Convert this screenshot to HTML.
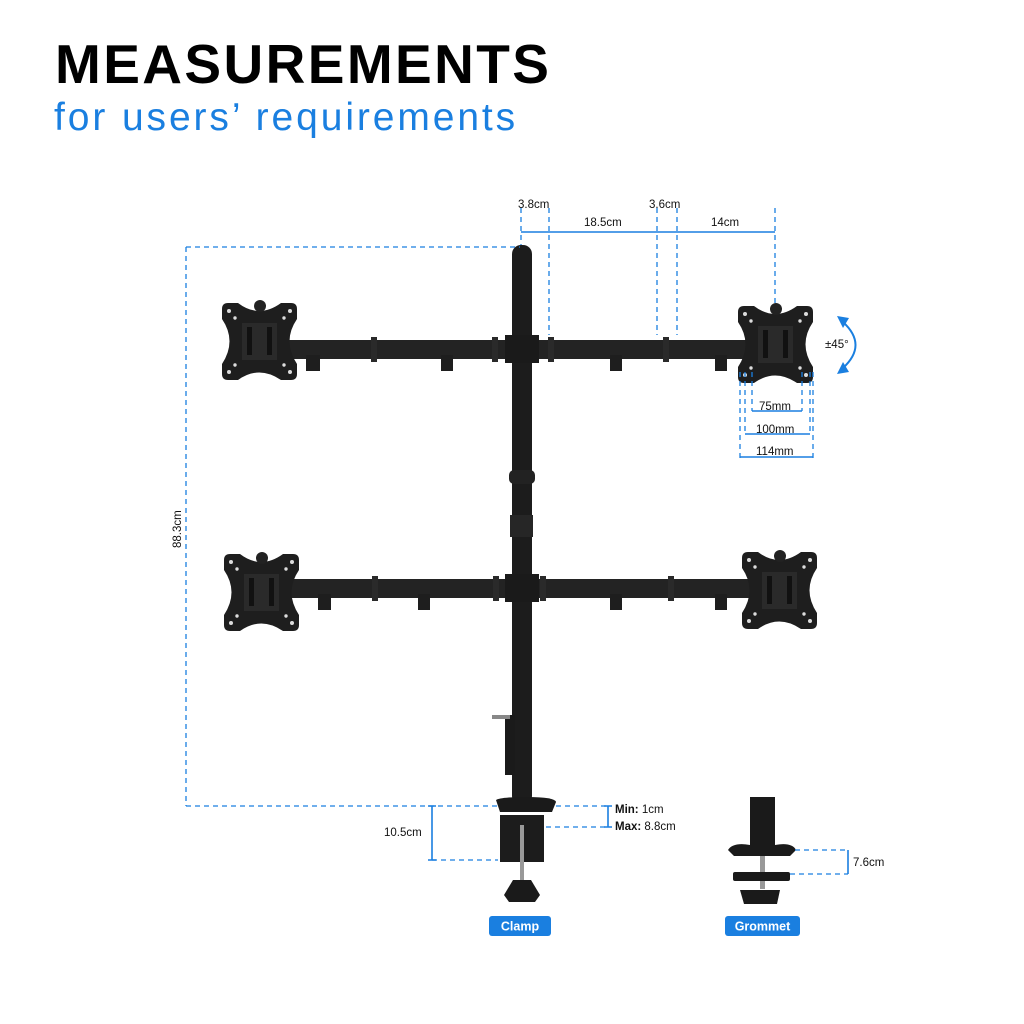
<!DOCTYPE html>
<html><head><meta charset="utf-8"><style>
html,body{margin:0;padding:0;background:#fff}
svg{display:block}
text{font-family:"Liberation Sans",sans-serif}
</style></head><body>
<svg width="1024" height="1024" viewBox="0 0 1024 1024" xmlns="http://www.w3.org/2000/svg">
<defs>
<g id="plate">
<path d="M0,6 Q0,0 6,0 L16,0 Q37,16 59,0 L69,0 Q75,0 75,6 L75,16 Q60,38 75,61 L75,71 Q75,77 69,77 L59,77 Q37,62 16,77 L6,77 Q0,77 0,71 L0,61 Q15,38 0,16 Z" fill="#1e1e1e"/>
<rect x="20" y="20" width="35" height="37" fill="#2a2a2a"/>
<rect x="25" y="24" width="5" height="28" fill="#111"/><rect x="45" y="24" width="5" height="28" fill="#111"/>
<g fill="#ddd"><circle cx="7" cy="8" r="2"/><circle cx="68" cy="8" r="2"/><circle cx="7" cy="69" r="2"/><circle cx="68" cy="69" r="2"/><circle cx="13" cy="15" r="1.7"/><circle cx="62" cy="15" r="1.7"/><circle cx="13" cy="62" r="1.7"/><circle cx="62" cy="62" r="1.7"/></g>
</g>
</defs>
<text x="55" y="83" font-size="55" font-weight="bold" letter-spacing="2.4" fill="#000">MEASUREMENTS</text>
<text x="54" y="130" font-size="39" letter-spacing="2.9" fill="#1a7fe0">for users’ requirements</text>

<!-- pole -->
<rect x="512" y="245" width="20" height="560" rx="9" fill="#1c1c1c"/>
<rect x="509" y="470" width="26" height="14" rx="5" fill="#222"/>
<rect x="510" y="515" width="23" height="22" fill="#262626"/>
<!-- upper arm -->
<rect x="282" y="340" width="475" height="19" fill="#232323"/>
<rect x="505" y="335" width="34" height="28" fill="#1a1a1a"/>
<g fill="#2a2a2a"><rect x="371" y="337" width="6" height="25"/><rect x="663" y="337" width="6" height="25"/><rect x="548" y="337" width="6" height="25"/><rect x="492" y="337" width="6" height="25"/></g>
<g fill="#1e1e1e"><rect x="306" y="355" width="14" height="16"/><rect x="441" y="355" width="12" height="16"/><rect x="610" y="355" width="12" height="16"/><rect x="715" y="355" width="12" height="16"/></g>
<use href="#plate" x="222" y="303"/>
<use href="#plate" x="738" y="306"/>
<circle cx="260" cy="306" r="6" fill="#222"/><circle cx="776" cy="309" r="6" fill="#222"/>
<!-- lower arm -->
<rect x="285" y="579" width="465" height="19" fill="#232323"/>
<rect x="505" y="574" width="34" height="28" fill="#1a1a1a"/>
<g fill="#2a2a2a"><rect x="372" y="576" width="6" height="25"/><rect x="668" y="576" width="6" height="25"/><rect x="540" y="576" width="6" height="25"/><rect x="493" y="576" width="6" height="25"/></g>
<g fill="#1e1e1e"><rect x="318" y="594" width="13" height="16"/><rect x="418" y="594" width="12" height="16"/><rect x="610" y="594" width="12" height="16"/><rect x="715" y="594" width="12" height="16"/></g>
<use href="#plate" x="224" y="554"/>
<use href="#plate" x="742" y="552"/>
<circle cx="262" cy="558" r="6" fill="#222"/><circle cx="780" cy="556" r="6" fill="#222"/>
<!-- clamp -->
<rect x="505" y="715" width="10" height="60" fill="#1a1a1a"/>
<rect x="492" y="715" width="18" height="4" fill="#888"/>
<path d="M496,800 Q500,797 527,797 Q555,797 556,802 L552,812 L500,812 Z" fill="#1a1a1a"/>
<path d="M500,815 L544,815 L544,862 L500,862 Z" fill="#1c1c1c"/>
<rect x="520" y="825" width="4" height="55" fill="#999"/>
<path d="M513,880 L531,880 L540,895 L535,902 L509,902 L504,895 Z" fill="#1a1a1a"/>
<!-- grommet -->
<rect x="750" y="797" width="25" height="52" fill="#1a1a1a"/>
<path d="M728,850 Q733,842 750,845 L775,845 Q792,842 796,850 L790,856 L734,856 Z" fill="#1a1a1a"/>
<rect x="760" y="856" width="5" height="18" fill="#999"/>
<rect x="733" y="872" width="57" height="9" rx="2" fill="#1a1a1a"/>
<rect x="760" y="881" width="5" height="8" fill="#999"/>
<path d="M740,890 L780,890 L777,904 L744,904 Z" fill="#1a1a1a"/>

<!-- dimension lines -->
<g stroke="#1a7fe0" stroke-width="1.3" fill="none" stroke-dasharray="5,4">
<path d="M186,247 H520 M186,247 V806 M186,806 H500"/>
<path d="M521,208 V245 M549,208 V335 M657,208 V335 M677,208 V335 M775,208 V305"/>
<path d="M740,372 V458 M745,372 V434 M752,372 V411 M802,372 V411 M810,372 V434 M813,372 V458"/>
<path d="M556,806 H606 M546,827 H606 M432,860 H498"/>
<path d="M795,850 H848 M790,874 H848"/>
</g>
<g stroke="#1a7fe0" stroke-width="1.6" fill="none">
<path d="M521,232 H775"/>
<path d="M752,411 H802 M745,434 H810 M740,457 H813"/>
<path d="M608,806 V827 M604,806 H612 M604,827 H612"/>
<path d="M432,806 V860 M428,806 H436 M428,860 H436"/>
<path d="M848,850 V874"/>
<path d="M843,322 Q868,345 843,368" stroke-width="2"/>
</g>
<path d="M837,316 L849,318 L843,328 Z M837,374 L849,372 L843,362 Z" fill="#1a7fe0"/>

<g font-size="11.5" fill="#111">
<text x="518" y="208">3.8cm</text>
<text x="584" y="226">18.5cm</text>
<text x="649" y="208">3.6cm</text>
<text x="711" y="226">14cm</text>
<text x="825" y="348">±45°</text>
<text x="759" y="410">75mm</text>
<text x="756" y="433">100mm</text>
<text x="756" y="455">114mm</text>
<text x="384" y="836">10.5cm</text>
<text x="615" y="813"><tspan font-weight="bold">Min:</tspan> 1cm</text>
<text x="615" y="830"><tspan font-weight="bold">Max:</tspan> 8.8cm</text>
<text x="853" y="866">7.6cm</text>
<text transform="translate(181,548) rotate(-90)">88.3cm</text>
</g>
<rect x="489" y="916" width="62" height="20" rx="3" fill="#1a7fe0"/>
<text x="520" y="930.5" font-size="12.5" font-weight="bold" fill="#fff" text-anchor="middle">Clamp</text>
<rect x="725" y="916" width="75" height="20" rx="3" fill="#1a7fe0"/>
<text x="762.5" y="930.5" font-size="12.5" font-weight="bold" fill="#fff" text-anchor="middle">Grommet</text>
</svg>
</body></html>
